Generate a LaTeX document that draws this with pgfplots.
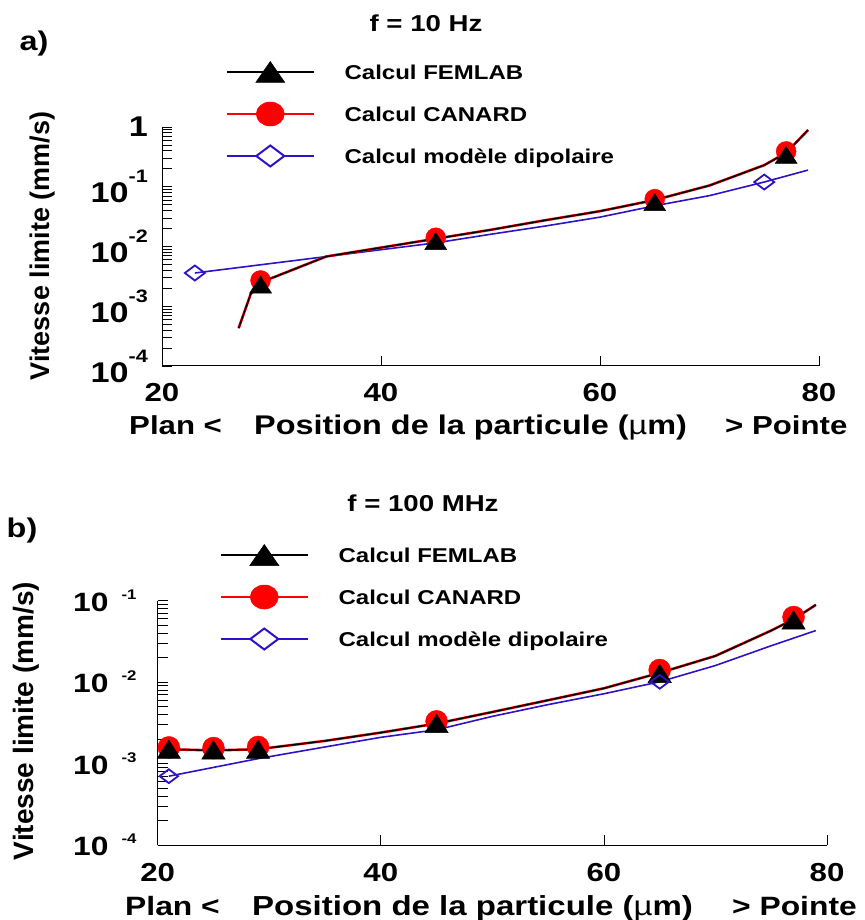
\documentclass[border=0pt]{standalone}
\usepackage{fontspec}
\setmainfont{Liberation Sans}[FakeStretch=1.2]
\newfontfamily\ylfont{Liberation Sans}
\usepackage{pgfplots}
\pgfplotsset{compat=1.18}
\definecolor{dipblue}{RGB}{48,16,200}
\newcommand{\tla}[1]{10\raisebox{20pt}{\fontsize{18}{18}\selectfont #1}}
\newcommand{\tlb}[1]{10\hspace{13pt}\raisebox{12pt}{\fontsize{14}{14}\selectfont #1}}
\pgfplotsset{
  legend image code/.code={%
    \path[draw=none, fill=none] (0pt,-21pt) rectangle (87pt,21pt);
    \draw[mark repeat=2,mark phase=2,#1] plot coordinates {(0pt,0pt) (43.5pt,0pt) (87pt,0pt)};
  },
}
\begin{document}
\begin{tikzpicture}[x=1pt,y=1pt]
\useasboundingbox (0,0) rectangle (864,920);
% ---------------- panel a
\begin{axis}[scale only axis, ymode=log, xmin=20, xmax=80, clip=false,
  axis x line*=bottom, axis y line*=left,
  axis line style={-, line width=1pt},
  tick align=inside,
  xtick={20,40,60,80}, xticklabels={20,40,60,80},
  major tick length=10pt, minor tick length=10pt,
  every tick/.style={black, line width=0.8pt},
  xticklabel style={font=\fontsize{26}{26}\selectfont\bfseries, inner sep=0pt, anchor=north, yshift=-17pt},
  legend style={draw=none, fill=none, inner sep=0pt, outer sep=0pt, anchor=north west,
    row sep=0pt, column sep=30pt, font=\fontsize{20}{20}\selectfont\bfseries,
    nodes={inner sep=0pt, text height=14.5pt, text depth=0pt}, cells={anchor=west},
    at={(0.0974,1.318)}},
  at={(162pt,554pt)}, anchor=south west, width=657pt, height=239pt,
  ymin=1e-4, ymax=1,
  ytick={1e-4,1e-3,1e-2,1e-1,1}, yticklabels={\tla{-4},\tla{-3},\tla{-2},\tla{-1},1},
  minor ytick={2e-4,3e-4,4e-4,5e-4,6e-4,7e-4,8e-4,9e-4,2e-3,3e-3,4e-3,5e-3,6e-3,7e-3,8e-3,9e-3,2e-2,3e-2,4e-2,5e-2,6e-2,7e-2,8e-2,9e-2,0.2,0.3,0.4,0.5,0.6,0.7,0.8,0.9},
  yticklabel style={font=\fontsize{28.5}{28.5}\selectfont\bfseries, inner sep=0pt, anchor=east, xshift=-14pt},
]
\addplot[dipblue, line width=1.6pt, no marks, forget plot] coordinates {(23,3.6e-3) (45,1.15e-2) (50,1.6e-2) (55,2.2e-2) (60,3.1e-2) (65,4.8e-2) (70,7.1e-2) (75,1.2e-1) (79,1.9e-1)};
\addplot[red, line width=2.6pt, no marks, forget plot] coordinates {(27,4.3e-4) (28.1,1.6e-3) (29,2.5e-3) (35,6.8e-3) (45,1.35e-2) (50,1.9e-2) (55,2.75e-2) (60,3.9e-2) (65,6.0e-2) (70,1.05e-1) (75,2.3e-1) (77,3.7e-1) (79,8.9e-1)};
\addplot[black, line width=1.5pt, no marks, forget plot] coordinates {(27,4.3e-4) (28.1,1.6e-3) (29,2.5e-3) (35,6.8e-3) (45,1.35e-2) (50,1.9e-2) (55,2.75e-2) (60,3.9e-2) (65,6.0e-2) (70,1.05e-1) (75,2.3e-1) (77,3.7e-1) (79,8.9e-1)};
\addplot[only marks, mark=*, red, mark size=10pt, forget plot] coordinates {(29,2.7e-3) (45,1.4e-2) (65,6.2e-2) (77,3.9e-1)};
\addplot[only marks, mark=triangle*, black, mark size=11.3pt, mark options={xscale=1.12, yshift=-2.8pt, line width=0.5pt}, forget plot] coordinates {(29,2.3e-3) (45,1.23e-2) (65,5.5e-2) (77,3.4e-1)};
\addplot[only marks, mark=diamond, dipblue, mark size=10pt, mark options={rotate=90, line width=1.8pt}, forget plot] coordinates {(23,3.6e-3) (75,1.2e-1)};
\addlegendimage{black, line width=1.5pt, mark=triangle*, mark size=14pt, mark options={xscale=1.2, yshift=-3.5pt, line width=0.5pt}}
\addlegendimage{red, line width=1.5pt, mark=*, mark size=12pt, mark options={xscale=1.17, line width=0.5pt}}
\addlegendimage{dipblue, line width=1.6pt, mark=diamond*, mark size=14pt, mark options={rotate=90, line width=2pt, fill=white}}
\legend{Calcul FEMLAB, Calcul CANARD, Calcul modèle dipolaire}
\end{axis}
% ---------------- panel b
\begin{axis}[scale only axis, ymode=log, xmin=20, xmax=80, clip=false,
  axis x line*=bottom, axis y line*=left,
  axis line style={-, line width=1pt},
  tick align=inside,
  xtick={20,40,60,80}, xticklabels={20,40,60,80},
  major tick length=10pt, minor tick length=10pt,
  every tick/.style={black, line width=0.8pt},
  xticklabel style={font=\fontsize{26}{26}\selectfont\bfseries, inner sep=0pt, anchor=north, yshift=-18pt},
  legend style={draw=none, fill=none, inner sep=0pt, outer sep=0pt, anchor=north west,
    row sep=0pt, column sep=30pt, font=\fontsize{20}{20}\selectfont\bfseries,
    nodes={inner sep=0pt, text height=14.5pt, text depth=0pt}, cells={anchor=west},
    at={(0.0931,1.273)}},
  at={(157.7pt,75pt)}, anchor=south west, width=669.3pt, height=244.3pt,
  ymin=1e-4, ymax=1e-1,
  ytick={1e-4,1e-3,1e-2,1e-1}, yticklabels={\tlb{-4},\tlb{-3},\tlb{-2},\tlb{-1}},
  minor ytick={2e-4,3e-4,4e-4,5e-4,6e-4,7e-4,8e-4,9e-4,2e-3,3e-3,4e-3,5e-3,6e-3,7e-3,8e-3,9e-3,2e-2,3e-2,4e-2,5e-2,6e-2,7e-2,8e-2,9e-2},
  yticklabel style={font=\fontsize{26.5}{26.5}\selectfont\bfseries, inner sep=0pt, anchor=east, xshift=-21pt},
]
\addplot[dipblue, line width=1.6pt, no marks, forget plot] coordinates {(21,7e-4) (29,1.15e-3) (35,1.6e-3) (40,2.1e-3) (45,2.6e-3) (50,3.8e-3) (55,5.3e-3) (60,7.2e-3) (65,1.01e-2) (70,1.6e-2) (75,2.8e-2) (79,4.3e-2)};
\addplot[red, line width=2.6pt, no marks, forget plot] coordinates {(21,1.5e-3) (25,1.45e-3) (29,1.5e-3) (35,1.9e-3) (40,2.4e-3) (45,3.1e-3) (50,4.3e-3) (55,6.0e-3) (60,8.4e-3) (65,1.3e-2) (70,2.1e-2) (75,4.3e-2) (77,5.9e-2) (79,8.9e-2)};
\addplot[black, line width=1.5pt, no marks, forget plot] coordinates {(21,1.5e-3) (25,1.45e-3) (29,1.5e-3) (35,1.9e-3) (40,2.4e-3) (45,3.1e-3) (50,4.3e-3) (55,6.0e-3) (60,8.4e-3) (65,1.3e-2) (70,2.1e-2) (75,4.3e-2) (77,5.9e-2) (79,8.9e-2)};
\addplot[only marks, mark=*, red, mark size=11pt, forget plot] coordinates {(21,1.58e-3) (25,1.55e-3) (29,1.6e-3) (45,3.3e-3) (65,1.41e-2) (77,6.3e-2)};
\addplot[only marks, mark=triangle*, black, mark size=12.2pt, mark options={xscale=1.1, yshift=-3pt, line width=0.5pt}, forget plot] coordinates {(21,1.5e-3) (25,1.47e-3) (29,1.5e-3) (45,3.1e-3) (65,1.28e-2) (77,5.8e-2)};
\addplot[only marks, mark=diamond, dipblue, mark size=9.2pt, mark options={rotate=90, line width=1.8pt}, forget plot] coordinates {(21,7e-4) (65,1.01e-2)};
\addlegendimage{black, line width=1.5pt, mark=triangle*, mark size=14pt, mark options={xscale=1.2, yshift=-3.5pt, line width=0.5pt}}
\addlegendimage{red, line width=1.5pt, mark=*, mark size=12pt, mark options={xscale=1.17, line width=0.5pt}}
\addlegendimage{dipblue, line width=1.6pt, mark=diamond*, mark size=14pt, mark options={rotate=90, line width=2pt, fill=white}}
\legend{Calcul FEMLAB, Calcul CANARD, Calcul modèle dipolaire}
\end{axis}
% ---------------- texts
\node[font=\fontsize{23}{23}\selectfont\bfseries] at (426,897) {f = 10 Hz};
\node[font=\fontsize{27}{27}\selectfont\bfseries] at (34,876) {a)};
\node[rotate=90, font=\ylfont\fontsize{27}{27}\selectfont\bfseries] at (43,674) {Vitesse limite (mm/s)};
\node[anchor=base west, inner sep=0pt, font=\fontsize{26}{26}\selectfont\bfseries] at (129,485) {Plan <};
\node[anchor=base west, inner sep=0pt, font=\fontsize{27}{27}\selectfont\bfseries] at (254,485) {Position de la particule ({\mdseries µ}m)};
\node[anchor=base west, inner sep=0pt, font=\fontsize{26}{26}\selectfont\bfseries] at (725,485) {> Pointe};
\node[font=\fontsize{23}{23}\selectfont\bfseries] at (423,417) {f = 100 MHz};
\node[font=\fontsize{27}{27}\selectfont\bfseries] at (22,389) {b)};
\node[rotate=90, font=\ylfont\fontsize{28}{28}\selectfont\bfseries] at (26,199) {Vitesse limite (mm/s)};
\node[anchor=base west, inner sep=0pt, font=\fontsize{26.5}{26.5}\selectfont\bfseries] at (125,5) {Plan <};
\node[anchor=base west, inner sep=0pt, font=\fontsize{27.5}{27.5}\selectfont\bfseries] at (252,5) {Position de la particule ({\mdseries µ}m)};
\node[anchor=base west, inner sep=0pt, font=\fontsize{26.5}{26.5}\selectfont\bfseries] at (732,5) {> Pointe};
\end{tikzpicture}
\end{document}
